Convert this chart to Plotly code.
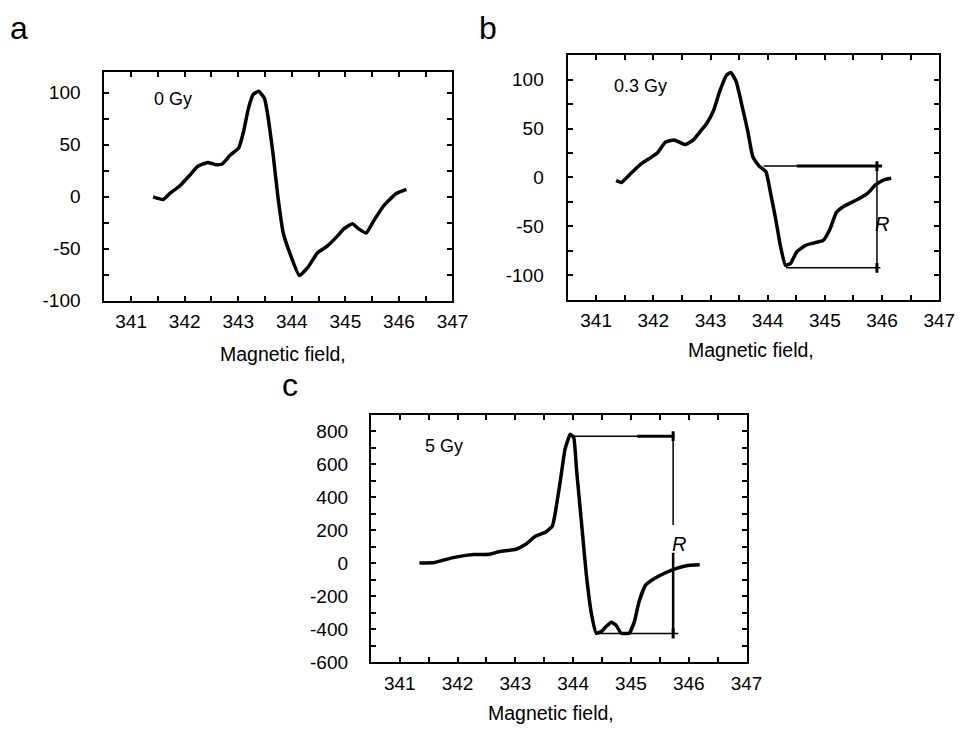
import plotly.graph_objects as go

# Panel a: 0 Gy
a_field = [341.41, 341.6, 341.72, 341.9, 342.09, 342.24, 342.43, 342.58, 342.7, 342.85,
           343.01, 343.1, 343.19, 343.28, 343.38, 343.49, 343.56, 343.65, 343.74, 343.84,
           343.96, 344.14, 344.3, 344.48, 344.66, 344.85, 344.97, 345.13, 345.25, 345.39,
           345.52, 345.71, 345.95, 346.14]
a_signal = [-0.2, -2.7, 3, 10, 20.4, 29, 33, 30.8, 31.5, 40,
            47, 63, 85, 98.4, 101.6, 94.6, 75.6, 41, 0, -35,
            -54, -76, -68, -54, -47.6, -38, -31, -26, -31, -35,
            -24, -9, 3, 7]

# Panel b: 0.3 Gy
b_field = [341.35, 341.44, 341.61, 341.78, 341.93, 342.07, 342.21, 342.36, 342.56, 342.7,
           342.84, 342.93, 343.05, 343.16, 343.28, 343.36, 343.45, 343.56, 343.65, 343.74,
           343.85, 343.97, 344.05, 344.14, 344.22, 344.31, 344.4, 344.51, 344.66, 344.83,
           344.97, 345.09, 345.2, 345.34, 345.57, 345.75, 345.89, 346.03, 346.16]
b_signal = [-3.2, -5.2, 4.2, 13.6, 19.3, 25, 36, 38.4, 33.7, 38.4,
            48.4, 55, 68, 88, 104.7, 107.3, 98, 71, 47.7, 21,
            11.6, 5.8, -16, -42.7, -69.5, -90, -88, -76, -69.5, -66.8,
            -64.5, -52.8, -36, -29.3, -22.6, -16, -7.5, -2.5, -0.8]

# Panel c: 5 Gy
c_field = [341.34, 341.6, 341.77, 341.99, 342.28, 342.56, 342.73, 343.01, 343.18, 343.35,
           343.52, 343.64, 343.69, 343.78, 343.86, 343.95, 344.01, 344.06, 344.15, 344.23,
           344.32, 344.4, 344.49, 344.57, 344.66, 344.74, 344.83, 344.97, 345.06, 345.14,
           345.25, 345.4, 345.59, 345.79, 345.96, 346.19]
c_signal = [0.2, 4, 20, 38, 52, 54, 70, 84, 114, 164,
            188, 224, 303, 503, 692, 782, 762, 563, 224, -76,
            -315, -425, -415, -385, -359, -375, -425, -425, -355, -235,
            -135, -95, -60, -32, -16, -10]

# R brackets (peak-to-peak height)
b_r_top_x = [343.93, 346.0]
b_r_top_y = [11.6, 11.6]
b_r_top_thick_x = [344.51, 346.0]
b_r_vert_x = [345.91, 345.91]
b_r_vert_y = [11.6, -92.5]
b_r_bot_x = [344.32, 345.97]
b_r_bot_y = [-92.5, -92.5]
b_r_label = (346.0, -48)

c_r_top_x = [343.96, 345.75]
c_r_top_y = [770, 770]
c_r_top_thick_x = [345.11, 345.75]
c_r_vert_x = [345.73, 345.73]
c_r_vert_up_y = [770, 231]
c_r_vert_lo_y = [63, -427]
c_r_bot_x = [344.4, 345.82]
c_r_bot_y = [-427, -427]
c_r_label = (345.83, 114)

# ticks
x_ticks = [341, 342, 343, 344, 345, 346, 347]
a_yticks = [-100, -50, 0, 50, 100]
b_yticks = [-100, -50, 0, 50, 100]
c_yticks = [-600, -400, -200, 0, 200, 400, 600, 800]

FONT = 'Liberation Sans, Arial, sans-serif'


def axis_style(tickvals, minor_dtick, rng, standoff):
    return dict(
        range=rng, showline=True, linecolor='black', linewidth=2, mirror='ticks',
        ticks='inside', ticklen=5, tickwidth=1.5, tickcolor='black',
        showgrid=False, zeroline=False,
        tickmode='array', tickvals=tickvals, ticktext=[str(v) for v in tickvals],
        ticklabelstandoff=standoff,
        tickfont=dict(family=FONT, size=19, color='black'),
        minor=dict(ticks='inside', ticklen=5, tickwidth=1.5, tickcolor='black',
                   tickmode='linear', tick0=0, dtick=minor_dtick, showgrid=False),
    )


fig = go.Figure()

line_kw = dict(color='black', width=3.5, shape='spline', smoothing=0.4)
fig.add_trace(go.Scatter(x=a_field, y=a_signal, mode='lines', line=line_kw, xaxis='x', yaxis='y'))
fig.add_trace(go.Scatter(x=b_field, y=b_signal, mode='lines', line=line_kw, xaxis='x2', yaxis='y2'))
fig.add_trace(go.Scatter(x=c_field, y=c_signal, mode='lines', line=line_kw, xaxis='x3', yaxis='y3'))

# bracket segments: (x, y, width, axes)
segments = [
    (b_r_top_x, b_r_top_y, 1.5, 'x2', 'y2'),
    (b_r_top_thick_x, b_r_top_y, 3, 'x2', 'y2'),
    (b_r_vert_x, b_r_vert_y, 1.5, 'x2', 'y2'),
    (b_r_bot_x, b_r_bot_y, 1.5, 'x2', 'y2'),
    (c_r_top_x, c_r_top_y, 1.5, 'x3', 'y3'),
    (c_r_top_thick_x, c_r_top_y, 3, 'x3', 'y3'),
    (c_r_vert_x, c_r_vert_up_y, 1.5, 'x3', 'y3'),
    (c_r_vert_x, c_r_vert_lo_y, 2.5, 'x3', 'y3'),
    (c_r_bot_x, c_r_bot_y, 1.5, 'x3', 'y3'),
]
for xs, ys, w, ax, ay in segments:
    fig.add_trace(go.Scatter(x=xs, y=ys, mode='lines', line=dict(color='black', width=w),
                             xaxis=ax, yaxis=ay))

# end marks of the R bars
mark = dict(symbol='line-ns', size=7, line=dict(width=3, color='black'))
fig.add_trace(go.Scatter(x=b_r_vert_x, y=b_r_vert_y, mode='markers', marker=mark, xaxis='x2', yaxis='y2'))
fig.add_trace(go.Scatter(x=c_r_vert_x, y=[c_r_vert_up_y[0], c_r_vert_lo_y[1]], mode='markers',
                         marker=mark, xaxis='x3', yaxis='y3'))

fig.update_layout(
    width=963, height=731, margin=dict(l=0, r=0, t=0, b=0),
    paper_bgcolor='white', plot_bgcolor='white', showlegend=False,
    font=dict(family=FONT, color='black'),
    xaxis=dict(domain=[98 / 963, 452 / 963], anchor='y', **axis_style(x_ticks, 0.5, [340.5, 347], 3)),
    yaxis=dict(domain=[1 - 297 / 731, 1 - 65 / 731], anchor='x', **axis_style(a_yticks, 25, [-100, 120], 18)),
    xaxis2=dict(domain=[569 / 963, 947 / 963], anchor='y2', **axis_style(x_ticks, 0.5, [340.5, 347], 3)),
    yaxis2=dict(domain=[1 - 296 / 731, 1 - 48 / 731], anchor='x2', **axis_style(b_yticks, 25, [-125, 125], 18)),
    xaxis3=dict(domain=[369 / 963, 751 / 963], anchor='y3', **axis_style(x_ticks, 0.5, [340.5, 347], 3)),
    yaxis3=dict(domain=[1 - 664 / 731, 1 - 413 / 731], anchor='x3', **axis_style(c_yticks, 100, [-600, 900], 17)),
)

ann = []
for txt, x, y, ya in [('a', 0 / 963, 1.0, 'top'), ('b', 477 / 963, 1.0, 'top'),
                      ('c', 277 / 963, 1 - 383 / 731, 'middle')]:
    ann.append(dict(text=txt, x=x, y=y, xref='paper', yref='paper', xanchor='left', yanchor=ya,
                    showarrow=False, font=dict(family=FONT, size=32, color='black')))
for x, y in [(280 / 963, 1 - 351 / 731), (756 / 963, 1 - 347 / 731), (552 / 963, 1 - 716 / 731)]:
    ann.append(dict(text='Magnetic field,', x=x, y=y, xref='paper', yref='paper', xanchor='center',
                    yanchor='middle', showarrow=False, font=dict(family=FONT, size=19.5, color='black')))
for txt, x, y, ax, ay in [('0 Gy', 341.38, 94, 'x', 'y'), ('0.3 Gy', 341.28, 94, 'x2', 'y2'),
                          ('5 Gy', 341.41, 712, 'x3', 'y3')]:
    ann.append(dict(text=txt, x=x, y=y, xref=ax, yref=ay, xanchor='left', yanchor='middle',
                    showarrow=False, font=dict(family=FONT, size=18, color='black')))
for (x, y), ax, ay in [(b_r_label, 'x2', 'y2'), (c_r_label, 'x3', 'y3')]:
    ann.append(dict(text='<i>R</i>', x=x, y=y, xref=ax, yref=ay, xanchor='center', yanchor='middle',
                    showarrow=False, font=dict(family=FONT, size=20, color='black')))
fig.update_layout(annotations=ann)

fig.write_html("out.html")
